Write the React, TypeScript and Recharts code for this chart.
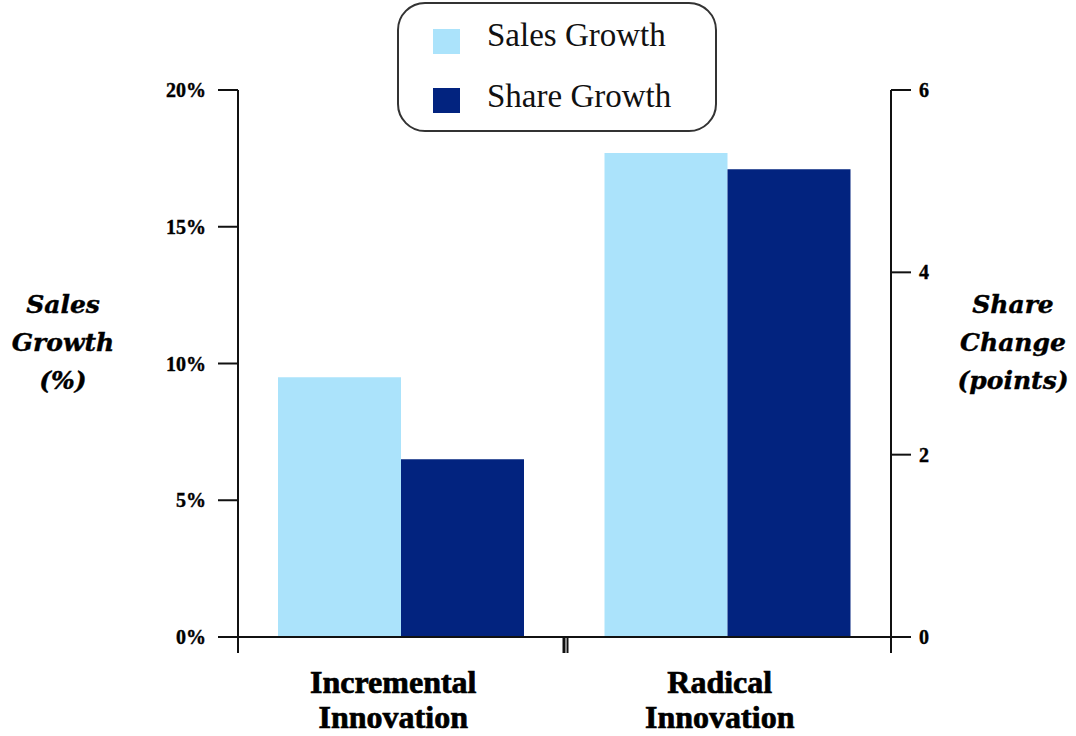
import React from 'react';
import { BarChart, Bar, XAxis, YAxis, Legend } from 'recharts';

const categories = ['Incremental Innovation', 'Radical Innovation'];
const categoryLines = [
  ['Incremental', 'Innovation'],
  ['Radical', 'Innovation'],
];
const salesGrowth = [9.5, 17.7];
const shareGrowth = [1.95, 5.13];
const leftTicks = [0, 5, 10, 15, 20];
const rightTicks = [0, 2, 4, 6];
const leftTitle = ['Sales', 'Growth', '(%)'];
const rightTitle = ['Share', 'Change', '(points)'];
const seriesNames = ['Sales Growth', 'Share Growth'];

const LIGHT = '#ABE3FB';
const DARK = '#02237F';
const AXIS = '#111';

const data = categories.map((c, i) => ({ name: c, sales: salesGrowth[i], share: shareGrowth[i] }));

const W = 1076;
const H = 736;
const PLOT_LEFT = 238;
const PLOT_RIGHT = 891;
const PLOT_TOP = 90;
const PLOT_BOTTOM = 637;
const Y_AXIS_W = 80;
const X_AXIS_H = 60;
const HALF_BAND = (PLOT_RIGHT - PLOT_LEFT) / categories.length / 2;

const XTick = (props: any) => {
  const { x, y, index } = props;
  const lines = categoryLines[index] || [];
  const lineStyle = { stroke: AXIS, strokeWidth: 2 };
  return (
    <g>
      <line x1={x - HALF_BAND} y1={y} x2={x - HALF_BAND} y2={y + 16} {...lineStyle} />
      {index === categories.length - 1 ? (
        <line x1={x + HALF_BAND} y1={y} x2={x + HALF_BAND} y2={y + 16} {...lineStyle} />
      ) : (
        <g>
          <line x1={x + HALF_BAND - 1} y1={y} x2={x + HALF_BAND - 1} y2={y + 16} {...lineStyle} />
          <line x1={x + HALF_BAND + 3} y1={y} x2={x + HALF_BAND + 3} y2={y + 16} {...lineStyle} />
        </g>
      )}
      {lines.map((t, i) => (
        <text
          key={i}
          x={x - 8}
          y={y + 56 + i * 35}
          textAnchor="middle"
          fill="#000"
          stroke="#000"
          strokeWidth={0.7}
          style={{ fontFamily: '"Liberation Serif", serif', fontWeight: 700, fontSize: 32 }}
        >
          {t}
        </text>
      ))}
    </g>
  );
};

const titleStyle = {
  fontFamily: '"DejaVu Serif", serif',
  fontWeight: 700,
  fontStyle: 'italic' as const,
  fontSize: 25,
};

const LeftTitle = () => (
  <g>
    {leftTitle.map((t, i) => (
      <text key={i} x={63} y={313 + i * 38} textAnchor="middle" fill="#000" stroke="#000" strokeWidth={0.4} style={titleStyle}>
        {t}
      </text>
    ))}
  </g>
);

const RightTitle = () => (
  <g>
    {rightTitle.map((t, i) => (
      <text key={i} x={1013} y={313 + i * 38} textAnchor="middle" fill="#000" stroke="#000" strokeWidth={0.4} style={titleStyle}>
        {t}
      </text>
    ))}
  </g>
);

const LegendBox = () => (
  <div
    style={{
      position: 'relative',
      width: 316,
      height: 126,
      border: '2px solid #333',
      borderRadius: 28,
      background: '#fff',
      fontFamily: '"Liberation Serif", serif',
      fontSize: 33,
      color: '#111',
    }}
  >
    {seriesNames.map((n, i) => (
      <div key={n}>
        <div
          style={{
            position: 'absolute',
            left: 34,
            top: 25 + i * 59,
            width: 27,
            height: 25,
            background: i === 0 ? LIGHT : DARK,
          }}
        />
        <div
          style={{
            position: 'absolute',
            left: 88,
            top: 11 + i * 61,
            lineHeight: '40px',
            whiteSpace: 'nowrap',
          }}
        >
          {n}
        </div>
      </div>
    ))}
  </div>
);

const tickStyle = {
  fill: '#000',
  stroke: '#000',
  strokeWidth: 0.4,
  fontFamily: '"Liberation Serif", serif',
  fontWeight: 700,
  fontSize: 20,
};

export default function App() {
  return (
    <div style={{ position: 'absolute', left: 0, top: 0, width: W, height: H, background: '#fff' }}>
      <BarChart
        width={W}
        height={H}
        data={data}
        barCategoryGap={40}
        barGap={0}
        margin={{
          top: PLOT_TOP,
          left: PLOT_LEFT - Y_AXIS_W,
          right: W - PLOT_RIGHT - Y_AXIS_W,
          bottom: H - PLOT_BOTTOM - X_AXIS_H,
        }}
      >
        <XAxis
          dataKey="name"
          height={X_AXIS_H}
          axisLine={{ stroke: AXIS, strokeWidth: 2 }}
          tickLine={false}
          tickSize={0}
          tickMargin={0}
          interval={0}
          tick={<XTick />}
        />
        <YAxis
          yAxisId="left"
          orientation="left"
          width={Y_AXIS_W}
          domain={[0, 20]}
          ticks={leftTicks}
          interval={0}
          tickFormatter={(v: number) => `${v}%`}
          tickSize={20}
          tickMargin={12}
          axisLine={{ stroke: AXIS, strokeWidth: 2 }}
          tickLine={{ stroke: AXIS, strokeWidth: 2 }}
          tick={tickStyle}
          label={{ content: () => <LeftTitle /> }}
        />
        <YAxis
          yAxisId="right"
          orientation="right"
          width={Y_AXIS_W}
          domain={[0, 6]}
          ticks={rightTicks}
          interval={0}
          tickSize={20}
          tickMargin={8}
          axisLine={{ stroke: AXIS, strokeWidth: 2 }}
          tickLine={{ stroke: AXIS, strokeWidth: 2 }}
          tick={tickStyle}
          label={{ content: () => <RightTitle /> }}
        />
        <Legend
          layout="horizontal"
          verticalAlign="middle"
          align="center"
          content={() => <LegendBox />}
          wrapperStyle={{ position: 'absolute', left: 397, top: 2, width: 320, height: 130, margin: 0 }}
        />
        <Bar yAxisId="left" dataKey="sales" name={seriesNames[0]} fill={LIGHT} isAnimationActive={false} />
        <Bar yAxisId="right" dataKey="share" name={seriesNames[1]} fill={DARK} isAnimationActive={false} />
      </BarChart>
    </div>
  );
}
